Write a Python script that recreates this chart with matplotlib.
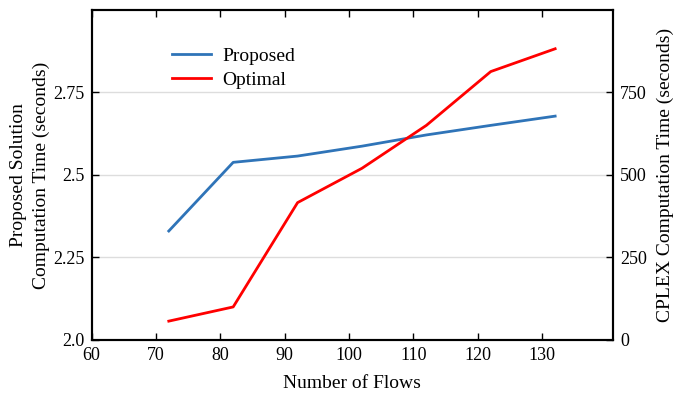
import matplotlib
matplotlib.use("Agg")
import matplotlib.pyplot as plt

plt.rcParams['font.family'] = ['Liberation Serif', 'DejaVu Serif']
plt.rcParams['font.size'] = 14

# Number of flows vs. computation time
flows = [72, 82, 92, 102, 112, 122, 132]
proposed_time = [2.33, 2.538, 2.557, 2.587, 2.621, 2.650, 2.678]
optimal_time = [57, 100, 416, 520, 650, 813, 882]

fig, ax = plt.subplots(figsize=(6.73, 3.93), dpi=100)
fig.subplots_adjust(left=0.136, right=0.911, top=0.975, bottom=0.135)
ax2 = ax.twinx()

l1, = ax.plot(flows, proposed_time, color='#2f74b8', lw=2.0, label='Proposed')
l2, = ax2.plot(flows, optimal_time, color='#ff0000', lw=2.0, label='Optimal')

ax.set_xlim(60, 141)
ax.set_ylim(2.0, 3.0)
ax2.set_ylim(0, 1000)
ax.set_xticks(range(60, 140, 10))
ax.set_yticks([2.0, 2.25, 2.5, 2.75])
ax.set_yticklabels(['2.0', '2.25', '2.5', '2.75'])
ax2.set_yticks([0, 250, 500, 750])

ax.grid(axis='y', color='#dddddd', lw=1.0)
ax.set_axisbelow(True)

ax.tick_params(direction='in', top=True, length=5, width=1.0, pad=5, labelsize=13)
ax2.tick_params(direction='in', length=5, width=1.0, pad=5, labelsize=13)
for a in (ax, ax2):
    for s in a.spines.values():
        s.set_linewidth(1.5)

ax.set_xlabel('Number of Flows', labelpad=8)
ax.set_ylabel('Proposed Solution\nComputation Time (seconds)', labelpad=2,
              linespacing=1.45)
ax2.set_ylabel('CPLEX Computation Time (seconds)', labelpad=7)

ax.legend(handles=[l1, l2], loc='upper left', bbox_to_anchor=(0.12, 0.94),
          frameon=False, handlelength=2.0, handletextpad=0.6, labelspacing=0.35)

fig.savefig('out.png', dpi=100)
